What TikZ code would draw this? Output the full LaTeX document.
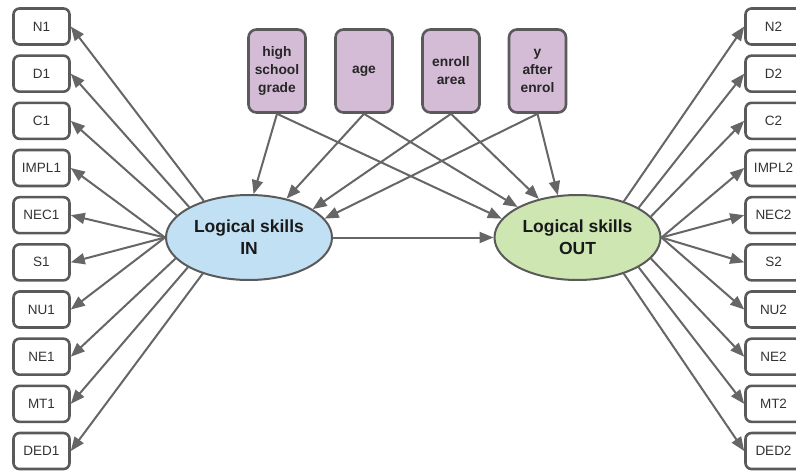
\documentclass[tikz,border=0pt]{standalone}
\usepackage{fontspec}
\setmainfont{Liberation Sans}
\usetikzlibrary{arrows.meta,shapes.geometric}
\definecolor{linec}{HTML}{666666}
\definecolor{boxline}{HTML}{5A5A5A}
\definecolor{lilac}{HTML}{D4BCD6}
\definecolor{inblue}{HTML}{C2E0F4}
\definecolor{outgreen}{HTML}{CDE6B2}
\tikzset{
  ind/.style={draw=boxline, line width=2.6pt, rounded corners=6pt, fill=white,
    minimum width=56pt, minimum height=36pt, inner sep=0pt,
    font=\fontsize{13.5}{15}\selectfont, text=black!80},
  cov/.style={draw=boxline, line width=2.6pt, rounded corners=8pt, fill=lilac,
    minimum width=57pt, minimum height=83pt, inner sep=0pt, align=center,
    font=\bfseries\fontsize{13.8}{18}\selectfont, text=black!85},
  lat/.style={draw=boxline, ellipse, line width=2pt, minimum width=166pt,
    minimum height=85pt, inner sep=0pt, align=center,
    font=\bfseries\fontsize{17.5}{22}\selectfont, text=black!90},
  arr/.style={draw=linec, line width=2pt, -{Triangle[length=14pt,width=11pt]}},
}
\begin{document}
\begin{tikzpicture}[x=1pt,y=-1pt]
\fill[white] (0,0) rectangle (796,471);
\useasboundingbox (0,0) rectangle (796,471);

% latent variables
\node[lat, fill=inblue] (IN) at (249,237.5) {Logical skills\\IN};
\node[lat, fill=outgreen] (OUT) at (577.5,237.5) {Logical skills\\OUT};

% covariates
\node[cov] (hs) at (277,71) {high\\school\\grade};
\node[cov] (age) at (364,71) {age};
\node[cov] (enr) at (451,71) {enroll\\area};
\node[cov] (yae) at (537.5,71) {y\\after\\enrol};

% indicators
\foreach \t [count=\i from 0] in {N1,D1,C1,IMPL1,NEC1,S1,NU1,NE1,MT1,DED1}
  \node[ind] (\t) at (41.5,26.5+47.17*\i) {\t};
\foreach \t [count=\i from 0] in {N2,D2,C2,IMPL2,NEC2,S2,NU2,NE2,MT2,DED2}
  \node[ind] (\t) at (773.5,26.5+47.17*\i) {\t};

% loadings
\foreach \t/\a in {N1/141.6,D1/153.4,C1/163.5,IMPL1/180,NEC1/180,S1/180,NU1/180,NE1/196.5,MT1/206.6,DED1/218.4}
  \draw[arr] (IN.\a) -- (\t.east);
\foreach \t/\a in {N2/38.4,D2/26.6,C2/16.5,IMPL2/0,NEC2/0,S2/0,NU2/0,NE2/-16.5,MT2/-26.6,DED2/-38.4}
  \draw[arr] (OUT.\a) -- (\t.west);

% covariate effects
\draw[arr] (hs.south) -- (IN.84.9);
\draw[arr] (age.south) -- (IN.46.9);
\draw[arr] (enr.south) -- (IN.24.7);
\draw[arr] (yae.south) -- (IN.14.6);
\draw[arr] (hs.south) -- (OUT.166);
\draw[arr] (age.south) -- (OUT.153.5);
\draw[arr] (enr.south) -- (OUT.135.5);
\draw[arr] (yae.south) -- (OUT.115);

% structural path
\draw[arr] (IN.east) -- (OUT.west);
\end{tikzpicture}
\end{document}
